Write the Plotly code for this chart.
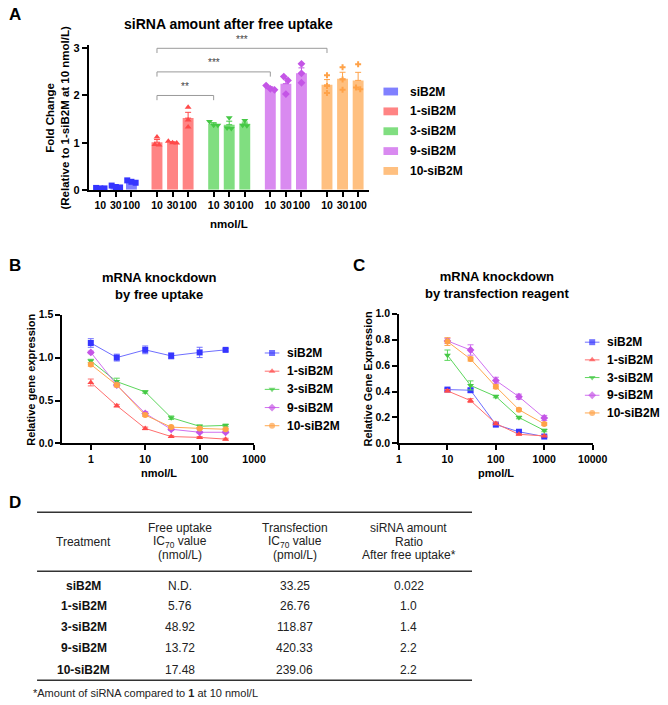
import numpy as np
import plotly.graph_objects as go

W, H = 668, 705
FONT = "Arial, Liberation Sans, Helvetica, sans-serif"

# ---------------- data ----------------
series = ["siB2M", "1-siB2M", "3-siB2M", "9-siB2M", "10-siB2M"]
doses_a = ["10", "30", "100"]

# Panel A: replicate fold-change values, per series, per dose (10, 30, 100 nmol/L)
rep_sib2m = [[0.04, 0.03, 0.03], [0.09, 0.06, 0.05], [0.20, 0.17, 0.15]]
rep_1 = [[1.12, 0.96, 0.95], [1.03, 1.00, 0.99], [1.75, 1.48, 1.33]]
rep_3 = [[1.45, 1.37, 1.37], [1.53, 1.30, 1.31], [1.47, 1.37, 1.36]]
rep_9 = [[2.21, 2.14, 2.12], [2.40, 2.32, 2.03], [2.67, 2.47, 2.27]]
rep_10 = [[2.43, 2.20, 2.05], [2.60, 2.34, 2.12], [2.66, 2.13, 2.17]]
reps_a = [rep_sib2m, rep_1, rep_3, rep_9, rep_10]
sig_labels = ["**", "***", "***"]

# Panel B: free uptake (nmol/L)
conc_b = [1, 3, 10, 30, 100, 300]
b_sib2m = [1.17, 1.00, 1.09, 1.02, 1.06, 1.09]
b_1 = [0.71, 0.44, 0.175, 0.08, 0.07, 0.05]
b_3 = [0.96, 0.72, 0.60, 0.30, 0.20, 0.21]
b_9 = [1.06, 0.68, 0.35, 0.165, 0.13, 0.13]
b_10 = [0.92, 0.68, 0.33, 0.19, 0.175, 0.165]
eb_sib2m = [0.05, 0.04, 0.045, 0.035, 0.06, 0.015]
eb_1 = [0.04, 0.015, 0.015, 0.01, 0.01, 0.01]
eb_3 = [0.02, 0.04, 0.015, 0.02, 0.015, 0.015]
eb_9 = [0.015, 0.02, 0.02, 0.015, 0.01, 0.01]
eb_10 = [0.02, 0.02, 0.015, 0.01, 0.01, 0.01]
vals_b = [b_sib2m, b_1, b_3, b_9, b_10]
errs_b = [eb_sib2m, eb_1, eb_3, eb_9, eb_10]

# Panel C: transfection reagent (pmol/L)
conc_c = [10, 30, 100, 300, 1000]
c_sib2m = [0.415, 0.41, 0.145, 0.09, 0.053]
c_1 = [0.405, 0.33, 0.153, 0.07, 0.058]
c_3 = [0.68, 0.447, 0.362, 0.20, 0.10]
c_9 = [0.79, 0.72, 0.485, 0.36, 0.196]
c_10 = [0.785, 0.65, 0.437, 0.26, 0.15]
ec_sib2m = [0.01, 0.015, 0.01, 0.01, 0.005]
ec_1 = [0.01, 0.015, 0.01, 0.005, 0.005]
ec_3 = [0.04, 0.035, 0.01, 0.01, 0.01]
ec_9 = [0.02, 0.04, 0.025, 0.02, 0.02]
ec_10 = [0.03, 0.015, 0.015, 0.01, 0.01]
vals_c = [c_sib2m, c_1, c_3, c_9, c_10]
errs_c = [ec_sib2m, ec_1, ec_3, ec_9, ec_10]

# Panel D: table
tbl_treatment = ["siB2M", "1-siB2M", "3-siB2M", "9-siB2M", "10-siB2M"]
tbl_free_ic70 = ["N.D.", "5.76", "48.92", "13.72", "17.48"]
tbl_trans_ic70 = ["33.25", "26.76", "118.87", "420.33", "239.06"]
tbl_ratio = ["0.022", "1.0", "1.4", "2.2", "2.2"]
tbl_headers = [["", "Treatment", ""],
               ["Free uptake", "IC<sub>70</sub> value", "(nmol/L)"],
               ["Transfection", "IC<sub>70</sub> value", "(pmol/L)"],
               ["siRNA amount", "Ratio", "After free uptake*"]]

# ---------------- styles ----------------
fill_cols = ["#8080FF", "#FF8484", "#80DE80", "#D98AF0", "#FFC080"]
dark_cols = ["#3535FF", "#FF4A4A", "#45C845", "#C455E6", "#FFA248"]
line_cols = ["#6E6EFF", "#FF6E6E", "#5CD65C", "#D070F0", "#FFA850"]
sym_a = ["square", "triangle-up", "triangle-down", "diamond", "cross"]
sym_bc = ["square", "triangle-up", "triangle-down", "diamond", "circle"]


def px(x):
    return x / W


def py(y):
    return 1 - y / H


fig = go.Figure()
ann = []
shapes = []

# ---------------- Panel A ----------------
GROUP_STEP = 3.64
for g, name in enumerate(series):
    reps = np.array(reps_a[g])
    means = reps.mean(axis=1)
    sems = reps.std(axis=1, ddof=1) / np.sqrt(reps.shape[1])
    pos = [g * GROUP_STEP + j for j in range(len(doses_a))]
    fig.add_trace(go.Bar(
        x=pos, y=means, width=0.7, marker=dict(color=fill_cols[g], line=dict(width=0)),
        error_y=dict(type="data", symmetric=False, array=sems, arrayminus=[0] * len(means),
                     color=dark_cols[g], thickness=1, width=3),
        xaxis="x", yaxis="y", showlegend=False))
    # beeswarm-like placement of replicate points
    xs, ys = [], []
    for j in range(len(doses_a)):
        vals = reps[j]
        order = np.argsort(-vals)
        clusters = [[order[0]]]
        for k in order[1:]:
            if abs(vals[clusters[-1][-1]] - vals[k]) < 0.09:
                clusters[-1].append(k)
            else:
                clusters.append([k])
        for cl in clusters:
            n = len(cl)
            for i, k in enumerate(cl):
                xs.append(pos[j] + (i - (n - 1) / 2) * 0.27)
                ys.append(vals[k])
    fig.add_trace(go.Scatter(
        x=xs, y=ys, mode="markers",
        marker=dict(symbol=sym_a[g], size=6 if sym_a[g] != "cross" else 5,
                    color=dark_cols[g], line=dict(width=0)),
        xaxis="x", yaxis="y", showlegend=False, cliponaxis=False))

# significance brackets (1-siB2M 10 vs others at 10)
bracket_levels = [2.0, 2.5, 3.0]
x_ref = 1 * GROUP_STEP
for i, (lab, lvl) in enumerate(zip(sig_labels, bracket_levels)):
    x_to = (i + 2) * GROUP_STEP
    shapes.append(dict(type="path", xref="x", yref="y",
                       path=f"M {x_ref},{lvl-0.1} L {x_ref},{lvl} L {x_to},{lvl} L {x_to},{lvl-0.1}",
                       line=dict(color="#9A9A9A", width=1)))
    ann.append(dict(xref="x", yref="y", x=(x_ref + x_to) / 2, y=lvl + 0.03, text=lab,
                    showarrow=False, yanchor="bottom", font=dict(size=10, color="#444444", family=FONT)))

tickpos = [g * GROUP_STEP + j for g in range(len(series)) for j in range(len(doses_a))]
ticktext = doses_a * len(series)


def axis_style(size):
    return dict(showgrid=False, zeroline=False, showline=True, linecolor="black", linewidth=1.8,
                ticks="outside", ticklen=5, tickwidth=1.8, tickcolor="black", tickangle=0,
                tickfont=dict(family=FONT, size=size, color="black", weight="bold"))


layout = dict(
    xaxis=dict(domain=[px(88), px(376)], range=[-0.75, 17.25], tickvals=tickpos, ticktext=ticktext,
               anchor="y", **axis_style(10.5)),
    yaxis=dict(domain=[py(187), py(39.2)], range=[0, 3.08], tickvals=[0, 1, 2, 3], anchor="x",
               **axis_style(11)),
    xaxis2=dict(domain=[px(61), px(258)], type="log", range=[np.log10(0.3), 3],
                tickvals=[1, 10, 100, 1000], ticktext=["1", "10", "100", "1000"], anchor="y2",
                **axis_style(10.5)),
    yaxis2=dict(domain=[py(445), py(314)], range=[0, 1.5], tickvals=[0, 0.5, 1.0, 1.5],
                tickformat=".1f", anchor="x2", **axis_style(10.5)),
    xaxis3=dict(domain=[px(407), px(606)], type="log", range=[0, 4],
                tickvals=[1, 10, 100, 1000, 10000], ticktext=["1", "10", "100", "1000", "10000"],
                anchor="y3", **axis_style(10.5)),
    yaxis3=dict(domain=[py(445), py(313)], range=[0, 1.0], tickvals=[0, 0.2, 0.4, 0.6, 0.8, 1.0],
                tickformat=".1f", anchor="x3", **axis_style(10.5)),
    xaxis4=dict(domain=[0, 1], range=[0, W], visible=False, anchor="y4", fixedrange=True),
    yaxis4=dict(domain=[0, 1], range=[H, 0], visible=False, anchor="x4", fixedrange=True),
)

# ---------------- Panels B and C ----------------
for (xa, ya, conc, vals, errs) in [("x2", "y2", conc_b, vals_b, errs_b),
                                     ("x3", "y3", conc_c, vals_c, errs_c)]:
    for g in range(len(series)):
        fig.add_trace(go.Scatter(
            x=conc, y=vals[g], mode="lines+markers",
            line=dict(color=line_cols[g], width=1),
            marker=dict(symbol=sym_bc[g], size=6, color=dark_cols[g], line=dict(width=0)),
            error_y=dict(type="data", array=errs[g], color=line_cols[g], thickness=1, width=3),
            xaxis=xa, yaxis=ya, showlegend=False, cliponaxis=False))

# ---------------- legends (drawn manually) ----------------
# A: boxes
for i, name in enumerate(series):
    yc = 87 + i * 20.2
    shapes.append(dict(type="rect", xref="paper", yref="paper", x0=px(391), x1=px(406),
                       y0=py(yc + 4), y1=py(yc - 4), fillcolor=fill_cols[i], line=dict(width=0)))
    ann.append(dict(xref="paper", yref="paper", x=px(416), y=py(yc), text=f"<b>{name}</b>",
                    showarrow=False, xanchor="left", yanchor="middle",
                    font=dict(family=FONT, size=12, color="black")))

# B and C: line + marker
for (x0, y0, step) in [(269, 353, 18.5), (598, 342, 18.0)]:
    for i, name in enumerate(series):
        yc = y0 + i * step
        fig.add_trace(go.Scatter(
            x=[x0, x0 + 7.5, x0 + 15], y=[yc, yc, yc], mode="lines+markers",
            line=dict(color=line_cols[i], width=1),
            marker=dict(symbol=sym_bc[i], size=[0, 6, 0], color=dark_cols[i], line=dict(width=0)),
            xaxis="x4", yaxis="y4", showlegend=False, hoverinfo="skip"))
        ann.append(dict(xref="paper", yref="paper", x=px(x0 + 21), y=py(yc), text=f"<b>{name}</b>",
                        showarrow=False, xanchor="left", yanchor="middle",
                        font=dict(family=FONT, size=12, color="black")))


# ---------------- titles, axis titles, panel letters ----------------
def text(x, y, t, size=12, angle=0, xanchor="center", color="black"):
    ann.append(dict(xref="paper", yref="paper", x=px(x), y=py(y), text=t, showarrow=False,
                    xanchor=xanchor, yanchor="middle", textangle=angle,
                    font=dict(family=FONT, size=size, color=color)))


text(12, 9, "<b>A</b>", 17)
text(12, 264, "<b>B</b>", 17)
text(366, 264, "<b>C</b>", 17)
text(12, 505, "<b>D</b>", 17)

text(232, 18, "<b>siRNA amount after free uptake</b>", 14)
text(56, 113, "<b>Fold Change<br>(Relative to 1-siB2M at 10 nmol/L)</b>", 11.5, angle=-90)
text(232, 222, "<b>nmol/L</b>", 11.5)

text(160, 285, "<b>mRNA knockdown<br>by free uptake</b>", 13)
text(28, 380, "<b>Relative gene expression</b>", 11, angle=-90)
text(160, 475, "<b>nmol/L</b>", 11)

text(508, 284, "<b>mRNA knockdown<br>by transfection reagent</b>", 13)
text(375, 379, "<b>Relative Gene Expression</b>", 11, angle=-90)
text(507, 475, "<b>pmol/L</b>", 11)

# ---------------- Panel D table ----------------
col_x = [83, 182, 300, 417]
header_line_y = [531, 545, 559]
for cx, hdr in zip(col_x, tbl_headers):
    for hy, line in zip(header_line_y, hdr):
        if line:
            text(cx, hy, line, 12, color="#222")
row_y = [590, 610.5, 631.5, 653, 675]
for r, yv in enumerate(row_y):
    text(col_x[0], yv, f"<b>{tbl_treatment[r]}</b>", 12, color="#111")
    text(col_x[1], yv, tbl_free_ic70[r], 12, color="#222")
    text(col_x[2], yv, tbl_trans_ic70[r], 12, color="#222")
    text(col_x[3], yv, tbl_ratio[r], 12, color="#222")
for yl in [515, 575, 686]:
    shapes.append(dict(type="line", xref="paper", yref="paper", x0=px(35), x1=px(482),
                       y0=py(yl), y1=py(yl), line=dict(color="#333", width=1.5)))
text(29, 699, "*Amount of siRNA compared to <b>1</b> at 10 nmol/L", 11, xanchor="left", color="#222")

fig.update_layout(
    width=W, height=H, margin=dict(l=0, r=0, t=0, b=0),
    paper_bgcolor="white", plot_bgcolor="rgba(0,0,0,0)",
    showlegend=False, annotations=ann, shapes=shapes,
    font=dict(family=FONT, color="black"),
    **layout)

fig.write_html("out.html")
